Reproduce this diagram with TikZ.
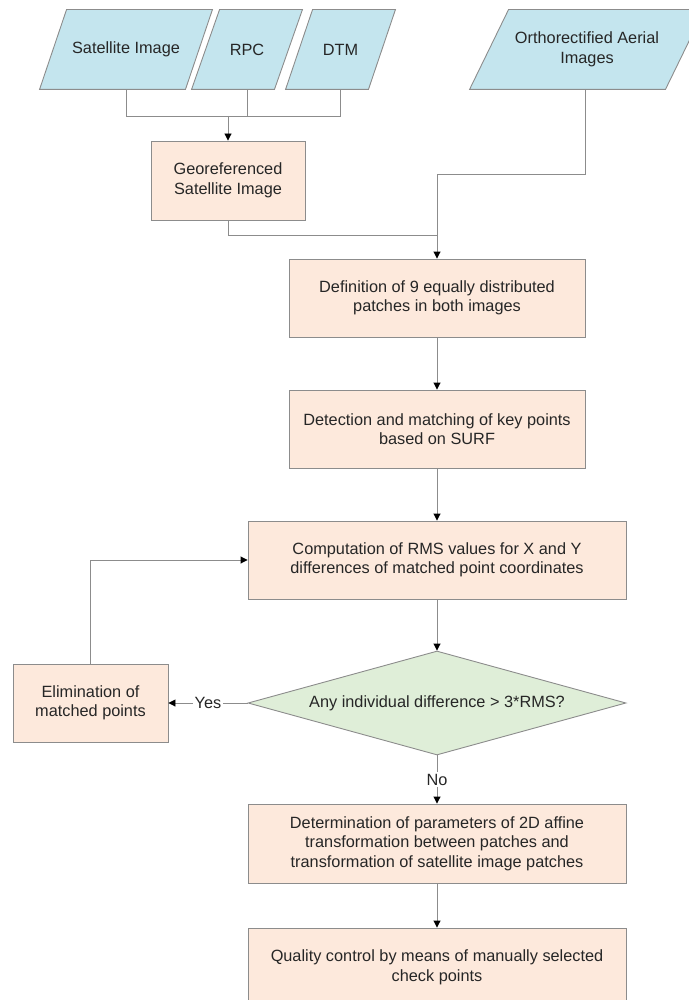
\documentclass[tikz,border=0pt]{standalone}
\usepackage{fontspec}
\setmainfont{Liberation Sans}
\usetikzlibrary{arrows.meta,shapes.geometric,backgrounds}
\definecolor{inblue}{HTML}{C4E5EE}
\definecolor{stepfill}{HTML}{FDE9DC}
\definecolor{testgreen}{HTML}{DFEED8}
\definecolor{edgegray}{HTML}{8C8C8C}
\definecolor{txtgray}{HTML}{262626}
\tikzset{
	base/.style={line width=0.9pt, text=txtgray, align=center,
		font=\fontsize{16.3}{19.5}\selectfont, inner sep=2pt},
	inbox/.style={base, rectangle, minimum height=79pt},
	procbox/.style={base, draw=edgegray, rectangle, fill=stepfill, minimum height=79pt},
	testbox/.style={base, draw=edgegray, diamond, fill=testgreen, inner sep=0pt, aspect=3.63,
		minimum width=378pt, minimum height=104pt},
	link/.style={draw=edgegray, line width=0.9pt},
	flow/.style={link, -{Triangle[length=7pt,width=7pt,color=black]}},
	tag/.style={fill=white, text=txtgray, inner sep=1.5pt,
		font=\fontsize{16.3}{19.5}\selectfont}
}
% slanted input shape over the corners of a node
\def\inslant(#1)(#2){\draw[link, fill=inblue] ([xshift=#2]#1.north west) -- (#1.north east) -- ([xshift=-#2]#1.south east) -- (#1.south west) -- cycle;}

\begin{document}
\begin{tikzpicture}[x=1pt, y=-1pt]
		%%%%% START %%%%%
		\useasboundingbox (0,0) rectangle (688,1000);
		
		% inputs
		\node[inbox, minimum width=172pt] (sat) at (126,49.5) {Satellite Image};
		\node[inbox, minimum width=110pt] (rpc) at (247,49.5) {RPC};
		\node[inbox, minimum width=109pt] (dtm) at (340.5,49.5) {DTM};
		\node[inbox, minimum width=234pt] (ortho) at (587,49.5) {Orthorectified Aerial\\Images};
		\begin{pgfonlayer}{background}
			\inslant(sat)(27pt)
			\inslant(rpc)(28pt)
			\inslant(dtm)(27pt)
			\inslant(ortho)(39pt)
		\end{pgfonlayer}
		
		% process steps
		\node[procbox, minimum width=154pt] (geo) at (228,180.5) {Georeferenced\\Satellite Image};
		\node[procbox, minimum width=296pt, minimum height=78pt] (def) at (437,298) {Definition of 9 equally distributed\\patches in both images};
		\node[procbox, minimum width=296pt, minimum height=78pt] (det) at (437,429) {Detection and matching of key points\\based on SURF};
		\node[procbox, minimum width=378pt, minimum height=78pt] (rms) at (437,560) {Computation of RMS values for X and Y\\differences of matched point coordinates};
		\node[testbox] (test) at (437,703) {Any individual difference > 3*RMS?};
		\node[procbox, minimum width=155pt, minimum height=78pt] (elim) at (90.5,703) {Elimination of\\matched points};
		\node[procbox, minimum width=378pt] (aff) at (437,843.5) {Determination of parameters of 2D affine\\transformation between patches and\\transformation of satellite image patches};
		\node[procbox, minimum width=378pt] (qual) at (437,967.5) {Quality control by means of manually selected\\check points};
		
		% junctions
		\coordinate (join) at (228,116);
		\coordinate (merge) at (437,235);
		\coordinate (elbow) at (437,174);
		
		\draw[link] (sat.south) |- (join);
		\draw[link] (dtm.south) |- (join);
		\draw[link] (rpc.south) -- (rpc.south |- join);
		\draw[flow] (join) -- (geo.north);
		
		\draw[link] (geo.south) |- (merge);
		\draw[flow] ([xshift=-2pt]ortho.south) |- (elbow) -- (def.north);
		
		\draw[flow] (def.south) -- (det.north);
		\draw[flow] (det.south) -- (rms.north);
		\draw[flow] (rms.south) -- (test.north);
		\draw[flow] (test.west) -- node[tag] {Yes} (elim.east);
		\draw[flow] (elim.north) |- (rms.west);
		\draw[flow] (test.south) -- node[tag] {No} (aff.north);
		\draw[flow] (aff.south) -- (qual.north);
		
		%%%%% END %%%%%
\end{tikzpicture}
\end{document}
